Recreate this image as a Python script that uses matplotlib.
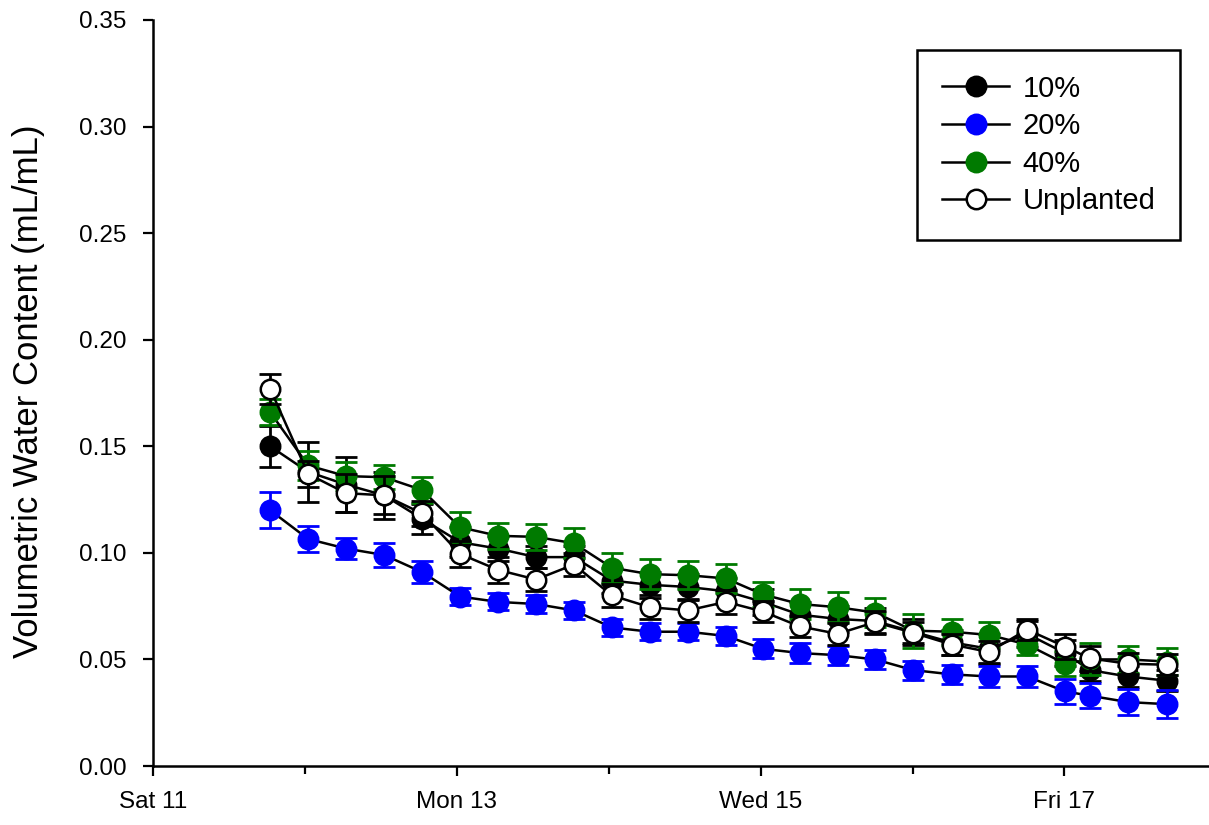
import pandas as pd
import matplotlib
matplotlib.use("Agg")
import matplotlib.pyplot as plt
import matplotlib.dates as mdates

plt.rcParams["font.family"] = ["Liberation Sans", "DejaVu Sans"]

# measurement times (Apr 2015: Sat 11 .. Fri 17)
times = pd.to_datetime([
    "2015-04-11 18:30", "2015-04-12 00:30", "2015-04-12 06:30", "2015-04-12 12:30", "2015-04-12 18:30",
    "2015-04-13 00:30", "2015-04-13 06:30", "2015-04-13 12:30", "2015-04-13 18:30",
    "2015-04-14 00:30", "2015-04-14 06:30", "2015-04-14 12:30", "2015-04-14 18:30",
    "2015-04-15 00:20", "2015-04-15 06:10", "2015-04-15 12:10", "2015-04-15 18:05",
    "2015-04-16 00:05", "2015-04-16 06:10", "2015-04-16 12:05", "2015-04-16 18:05",
    "2015-04-17 00:05", "2015-04-17 04:00", "2015-04-17 10:00", "2015-04-17 16:15",
])

vwc_10 = [0.150, 0.138, 0.132, 0.127, 0.116, 0.105, 0.102, 0.098, 0.098, 0.087, 0.085, 0.084, 0.082,
          0.077, 0.071, 0.069, 0.068, 0.063, 0.058, 0.055, 0.062, 0.053, 0.045, 0.042, 0.040]
err_10 = [0.0095, 0.014, 0.013, 0.011, 0.007, 0.007, 0.006, 0.005, 0.005, 0.006, 0.006, 0.006, 0.006,
          0.006, 0.006, 0.006, 0.006, 0.006, 0.006, 0.007, 0.006, 0.006, 0.005, 0.005, 0.005]

vwc_20 = [0.120, 0.1065, 0.102, 0.099, 0.091, 0.0795, 0.077, 0.076, 0.073, 0.065, 0.063, 0.063, 0.061,
          0.055, 0.053, 0.052, 0.050, 0.045, 0.043, 0.042, 0.042, 0.035, 0.033, 0.030, 0.029]
err_20 = [0.0085, 0.006, 0.005, 0.0055, 0.005, 0.004, 0.004, 0.004, 0.004, 0.004, 0.004, 0.004, 0.004,
          0.0045, 0.0045, 0.0045, 0.0045, 0.0045, 0.0045, 0.005, 0.005, 0.006, 0.006, 0.006, 0.0065]

vwc_40 = [0.166, 0.141, 0.136, 0.1355, 0.1295, 0.112, 0.108, 0.1075, 0.1045, 0.093, 0.090, 0.0895, 0.088,
          0.0805, 0.076, 0.0745, 0.072, 0.0635, 0.063, 0.0615, 0.057, 0.048, 0.050, 0.050, 0.049]
err_40 = [0.006, 0.007, 0.0067, 0.0055, 0.006, 0.007, 0.006, 0.006, 0.007, 0.007, 0.007, 0.0065, 0.007,
          0.006, 0.007, 0.007, 0.007, 0.008, 0.006, 0.006, 0.005, 0.006, 0.0075, 0.0065, 0.0065]

vwc_unpl = [0.177, 0.137, 0.128, 0.127, 0.1185, 0.0995, 0.092, 0.0875, 0.0945, 0.080, 0.0745, 0.073, 0.077,
            0.0725, 0.0655, 0.062, 0.0675, 0.0625, 0.057, 0.0535, 0.064, 0.056, 0.0505, 0.048, 0.0475]
err_unpl = [0.007, 0.006, 0.009, 0.009, 0.006, 0.006, 0.006, 0.0055, 0.0055, 0.0055, 0.0055, 0.0055, 0.0055,
            0.005, 0.005, 0.005, 0.005, 0.005, 0.005, 0.005, 0.005, 0.006, 0.006, 0.005, 0.005]

fig = plt.figure(figsize=(12.09, 8.25), dpi=100)
ax = fig.add_axes([0.1266, 0.0715, 0.8734, 0.9043])

series = [
    ("10%", vwc_10, err_10, "black", "black"),
    ("20%", vwc_20, err_20, "#0000FF", "#0000FF"),
    ("40%", vwc_40, err_40, "#007A00", "#007A00"),
    ("Unplanted", vwc_unpl, err_unpl, "white", "black"),
]
for label, y, e, face, ecol in series:
    ax.errorbar(times, y, yerr=e, fmt="none", ecolor=ecol, elinewidth=2.0, capsize=8, capthick=2.0)
    ax.plot(times, y, "-", color="black", lw=1.8, marker="o", ms=14, mfc=face,
            mec="black" if label == "Unplanted" else face, mew=1.8, label=label)

ax.set_ylim(0, 0.35)
ax.set_yticks([0, 0.05, 0.10, 0.15, 0.20, 0.25, 0.30, 0.35])
ax.yaxis.set_major_formatter(matplotlib.ticker.FormatStrFormatter("%.2f"))
ax.set_xlim(pd.Timestamp("2015-04-11 00:00"), pd.Timestamp("2015-04-17 22:50"))
ax.xaxis.set_major_locator(mdates.DayLocator(bymonthday=[11, 13, 15, 17]))
ax.xaxis.set_minor_locator(mdates.DayLocator())
ax.xaxis.set_major_formatter(mdates.DateFormatter("%a %d"))

for s in ("top", "right"):
    ax.spines[s].set_visible(False)
for s in ("left", "bottom"):
    ax.spines[s].set_linewidth(1.8)
ax.tick_params(axis="both", which="major", direction="out", length=7, width=1.6, labelsize=17.5)
ax.tick_params(axis="x", which="minor", direction="out", length=6, width=1.6)
ax.tick_params(axis="y", pad=12)
ax.tick_params(axis="x", pad=11)
ax.set_ylabel("Volumetric Water Content (mL/mL)", fontsize=25)
ax.yaxis.set_label_coords(-0.102, 0.503)

leg = ax.legend(loc="upper right", bbox_to_anchor=(0.9725, 0.96), borderaxespad=0, fontsize=21,
                frameon=True, fancybox=False, edgecolor="black", framealpha=1,
                handlelength=2.3, handletextpad=0.45, borderpad=0.85, labelspacing=0.33)
leg.get_frame().set_linewidth(1.8)

fig.savefig("out.png", dpi=100)
